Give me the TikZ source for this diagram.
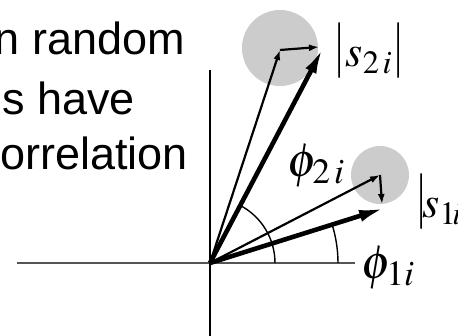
\documentclass[tikz,border=0pt]{standalone}
\usepackage{mathptmx}
\usepackage[no-math]{fontspec}
\usepackage{graphicx}
\newfontfamily\labelsans{Liberation Sans}
\usepackage{tikz}
\usetikzlibrary{arrows.meta, calc}

\definecolor{blobgray}{HTML}{CCCCCC}
\definecolor{axisgray}{HTML}{555555}

% tall modulus bar
\newcommand\absbar{\raisebox{2pt}{\scalebox{1}[1.27]{$|$}}}

\begin{document}
\begin{tikzpicture}[%
    x=1pt, y=1pt,                       % one unit = one pixel of the sketch
    >={Latex[length=10, width=7]},      % small arrow tips
    thinvec/.style={->, line width=2.2},
    thickvec/.style={-{Latex[length=26, width=12]}, line width=4.6},
    blob/.style={fill=blobgray, draw=none},
    angarc/.style={line width=1.4},
    mathlbl/.style={font=\fontsize{44}{48}\selectfont, inner sep=0pt},
    anglbl/.style={font=\fontsize{48}{52}\selectfont, inner sep=0pt},
    sidetext/.style={font=\labelsans\fontsize{45}{50}\selectfont, anchor=base east, inner sep=0pt}
]

    % ==========================================
    % 0. Frame
    % ==========================================
    \path[use as bounding box, clip] (-210,-73) rectangle (248,263);

    % ==========================================
    % 1. Points - circle centres and tips
    % ==========================================
    \coordinate (O)   at (0,0);
    \coordinate (xl)  at (-193,0);
    \coordinate (xr)  at (145,0);
    \coordinate (yt)  at (0,193);
    \coordinate (yb)  at (0,-80);
    \coordinate (c2)  at (70,213);
    \coordinate (t2)  at (113,215);
    \coordinate (e2)  at (109,216);
    \coordinate (c1)  at (170,88);
    \coordinate (t1)  at (175,55);
    \coordinate (e1)  at (172,59);

    % grey clouds
    \fill[blob] (70,215) circle[radius=38];
    \fill[blob] (170,88) circle[radius=29];

    % axes
    \draw[axisgray, line width=1.4] (xl) -- (xr);
    \draw[line width=2] (yt) -- (yb);

    % angle arcs
    \draw[angarc] (O) ++(65,0) arc[start angle=0, end angle=62.3, radius=65];
    \draw[angarc] (O) ++(128,0) arc[start angle=0, end angle=17.4, radius=128];

    % ==========================================
    % 2. Vectors (Edges)
    % ==========================================
    \path
        % --- second source ---
        (O)  edge[thinvec]  (c2)
        (c2) edge[thinvec]  (e2)
        (O)  edge[thickvec] (t2)
        % --- first source ---
        (O)  edge[thinvec]  (c1)
        (c1) edge[thinvec]  (e1)
        (O)  edge[thickvec] (t1);

    % ==========================================
    % 3. Labels
    % ==========================================
    \node[mathlbl, anchor=base] (s2) at (159,196) {\absbar$s_{2\,i}$\absbar};
    \node[mathlbl, anchor=base west] (s1) at (205,45) {\absbar$\!s_{1\!i}$};
    \node[anglbl] (phi2) at (106,97) {$\phi_{2\,i}$};
    \node[anglbl] (phi1) at (178,-5) {$\phi_{1i}$};

    \node[sidetext] (line1) at (-25,208) {n random};
    \node[sidetext] (line2) at (-75,148) {s have};
    \node[sidetext] (line3) at (-22,93)  {orrelation};

\end{tikzpicture}
\end{document}
